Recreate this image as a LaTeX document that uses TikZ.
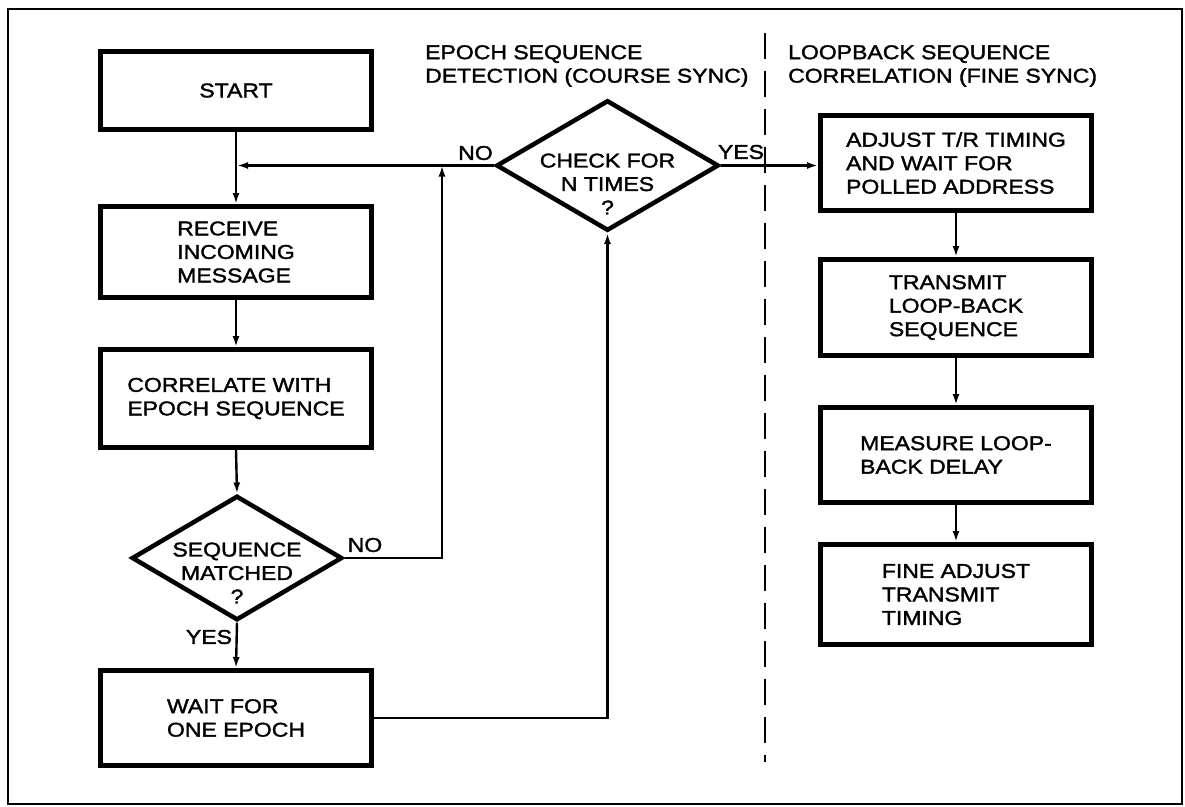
\documentclass[tikz,border=0pt]{standalone}
\usepackage{fontspec}
\setmainfont{Liberation Sans}[FakeStretch=1.15, FakeBold=1.6]
\usetikzlibrary{arrows.meta,shapes.geometric}
\begin{document}
\begin{tikzpicture}[x=1pt,y=-1pt,
  every node/.style={font=\fontsize{20}{23.5}\selectfont, inner sep=0pt},
  box/.style={draw, line width=5pt, align=left, minimum width=271pt},
  dia/.style={draw, diamond, line width=4.5pt, line join=miter},
  arr/.style={line width=2.4pt, -{Latex[length=11pt,width=7pt]}},
  lbl/.style={inner sep=0pt}]
\fill[white] (0,0) rectangle (1185,806);
\useasboundingbox (0,0) rectangle (1185,806);
\draw[line width=2.4pt] (8,9) rectangle (1182,804);
\draw[line width=2.8pt, dash pattern=on 26pt off 12pt] (765,33) -- (765,762);

% titles
\node[anchor=west, align=left] (t1) at (425,66) {EPOCH SEQUENCE\\DETECTION (COURSE SYNC)};
\node[anchor=west, align=left] (t2) at (788,66) {LOOPBACK SEQUENCE\\CORRELATION (FINE SYNC)};

% left column
\node[box, minimum height=78pt] (start) at (236,90.5) {START};
\node[box, minimum height=91pt] (recv) at (236,252) {RECEIVE\\INCOMING\\MESSAGE};
\node[box, minimum height=98pt] (corr) at (236,398.5) {CORRELATE WITH\\EPOCH SEQUENCE};
\node[dia, minimum width=210.5pt, minimum height=124.5pt] (seq) at (237,558) {};
\node[align=center] (seqt) at (237,573) {SEQUENCE\\MATCHED\\?};
\node[box, minimum height=95pt] (wait) at (236,718) {WAIT FOR\\ONE EPOCH};

% check diamond
\node[dia, minimum width=222.5pt, minimum height=130.5pt] (chk) at (607.5,165.5) {};
\node[align=center] (chkt) at (607.5,184) {CHECK FOR\\N TIMES\\?};

% right column
\node[box, minimum height=95pt] (adj) at (956,163) {ADJUST T/R TIMING\\AND WAIT FOR\\POLLED ADDRESS};
\node[box, minimum height=96pt] (trans) at (956,307.5) {TRANSMIT\\LOOP-BACK\\SEQUENCE};
\node[box, minimum height=95pt] (meas) at (956,455) {MEASURE LOOP-\\BACK DELAY};
\node[box, minimum height=100pt] (fine) at (956,594.5) {FINE ADJUST\\TRANSMIT\\TIMING};

% labels
\node[lbl] (no1) at (475.5,153) {NO};
\node[lbl] (yes1) at (741,152) {YES};
\node[lbl] (no2) at (365,545) {NO};
\node[lbl] (yes2) at (209,637) {YES};

% junctions
\coordinate (j1) at (237,165.5);
\coordinate (j2) at (442,165.5);

% connectors
\draw[arr] (start.south) -- (recv.north);
\draw[arr] (recv.south) -- (corr.north);
\draw[arr] (corr.south) -- (seq.north);
\draw[arr] (seq.south) -- (wait.north);
\draw[arr] (chk.west) -- (j1);
\draw[arr] (seq.east) -| (j2);
\draw[arr] (wait.east) -| (chk.south);
\draw[arr] (chk.east) -- (chk.east -| adj.west);
\draw[arr] (adj.south) -- (trans.north);
\draw[arr] (trans.south) -- (meas.north);
\draw[arr] (meas.south) -- (fine.north);
\end{tikzpicture}
\end{document}
